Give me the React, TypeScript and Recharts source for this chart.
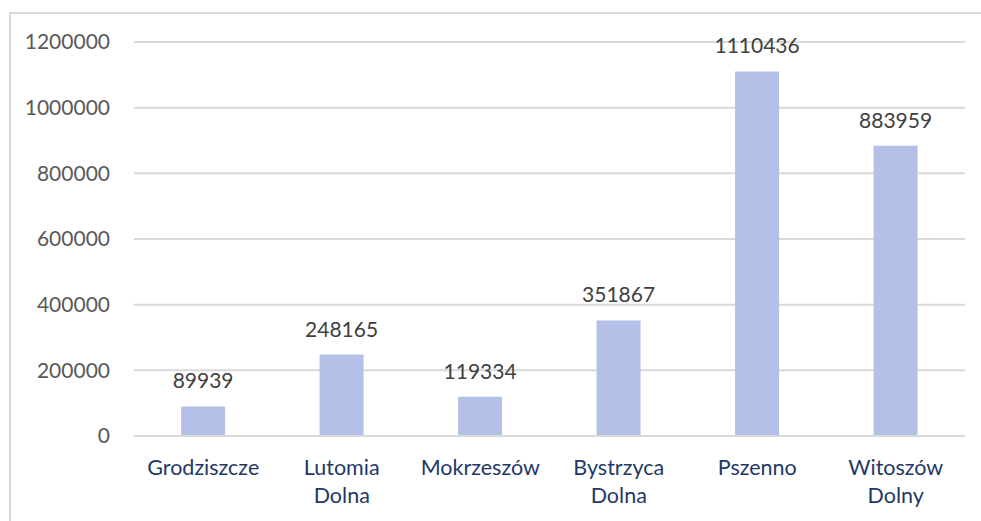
import React from 'react';
import { BarChart, Bar, XAxis, YAxis, CartesianGrid, LabelList } from 'recharts';

const places = ['Grodziszcze', 'Lutomia Dolna', 'Mokrzeszów', 'Bystrzyca Dolna', 'Pszenno', 'Witoszów Dolny'];
const values = [89939, 248165, 119334, 351867, 1110436, 883959];
const yTicks = [0, 200000, 400000, 600000, 800000, 1000000, 1200000];

const data = places.map((name, i) => ({ name, value: values[i] }));

const FONT = 'Lato, "Open Sans", sans-serif';

const PlaceTick = (props: any) => {
  const { x, y, payload } = props;
  const lines = String(payload.value).split(' ');
  return (
    <text x={x} y={y} textAnchor="middle" fill="#1f3868" fontSize={21.5} fontFamily={FONT}>
      {lines.map((l, i) => (
        <tspan key={i} x={x} dy={i === 0 ? 39 : 28}>{l}</tspan>
      ))}
    </text>
  );
};

export default function App() {
  return (
    <div style={{ position: 'absolute', left: 0, top: 0, width: 981, height: 521, background: '#fff', overflow: 'hidden' }}>
      <div style={{ position: 'absolute', left: 9, top: 12, right: -10, bottom: -10, borderTop: '2px solid #d9d9d9', borderLeft: '2px solid #d9d9d9' }} />
      <div style={{ position: 'absolute', left: 0, top: 0 }}>
        <BarChart width={981} height={521} data={data} barCategoryGap="34%"
          margin={{ top: 42, right: 16, bottom: 0, left: 0 }}>
          <CartesianGrid vertical={false} stroke="#d9d9d9" strokeWidth={2} />
          <XAxis dataKey="name" axisLine={{ stroke: '#d9d9d9', strokeWidth: 2 }} tickLine={false}
            tickSize={0} tickMargin={0} interval={0} tick={<PlaceTick />} height={85} />
          <YAxis domain={[0, 1200000]} ticks={yTicks} axisLine={false} tickLine={false}
            tickSize={0} tickMargin={24} width={134}
            tick={{ fill: '#595959', fontSize: 21, fontFamily: FONT }} />
          <Bar dataKey="value" fill="#b4c0e7" isAnimationActive={false}>
            <LabelList dataKey="value" position="top" offset={18} fill="#404040" fontSize={21} fontFamily={FONT} />
          </Bar>
        </BarChart>
      </div>
    </div>
  );
}
